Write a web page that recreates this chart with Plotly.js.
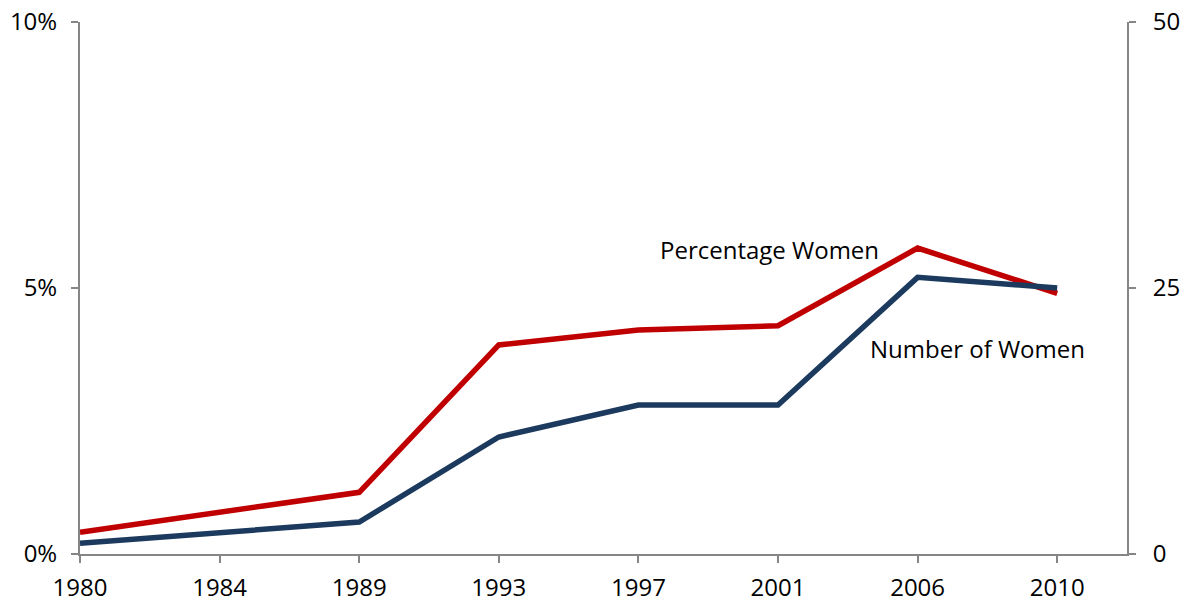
<!DOCTYPE html>
<html>
<head>
<meta charset="utf-8">
<script src="https://cdn.plot.ly/plotly-3.0.1.min.js"></script>
<style>html,body{margin:0;padding:0;background:#fff;}#chart{width:1187px;height:604px;}</style>
</head>
<body>
<div id="chart"></div>
<script>
const years = ['1980', '1984', '1989', '1993', '1997', '2001', '2006', '2010'];
const percentageWomen = [0.41, null, 1.16, 3.93, 4.21, 4.29, 5.75, 4.90];
const numberOfWomen = [1, null, 3, 11, 14, 14, 26, 25];
const leftTicks = [0, 5, 10];
const leftTickText = ['0%', '5%', '10%'];
const rightTicks = [0, 25, 50];

const fontFamily = 'Open Sans, Noto Sans, sans-serif';
const axisColor = '#868686';
const fs = 24;

const traces = [
  {x: years, y: percentageWomen, type: 'scatter', mode: 'lines', connectgaps: true,
   name: 'Percentage Women', line: {color: '#C00000', width: 5.5}, yaxis: 'y'},
  {x: years, y: numberOfWomen, type: 'scatter', mode: 'lines', connectgaps: true,
   name: 'Number of Women', line: {color: '#1B3A5E', width: 5.5}, yaxis: 'y2'}
];

const layout = {
  width: 1187, height: 604,
  margin: {l: 80, r: 60, t: 22, b: 50},
  paper_bgcolor: '#fff', plot_bgcolor: '#fff',
  showlegend: false,
  font: {family: fontFamily, size: fs, color: '#000'},
  xaxis: {type: 'category', categoryorder: 'array', categoryarray: years,
    range: [0, 7.5], showgrid: false, zeroline: false,
    showline: true, linecolor: axisColor, linewidth: 2,
    ticks: 'outside', ticklen: 7, tickcolor: axisColor, tickwidth: 2,
    ticklabelstandoff: 4,
    tickfont: {family: fontFamily, size: fs, color: '#000'}},
  yaxis: {range: [0, 10], tickvals: leftTicks, ticktext: leftTickText,
    showgrid: false, zeroline: false, showline: true, linecolor: axisColor, linewidth: 2,
    ticks: 'outside', ticklen: 7, tickcolor: axisColor, tickwidth: 2,
    ticklabelstandoff: 9,
    tickfont: {family: fontFamily, size: fs, color: '#000'}},
  yaxis2: {range: [0, 50], tickvals: rightTicks, overlaying: 'y', side: 'right',
    showgrid: false, zeroline: false, showline: true, linecolor: axisColor, linewidth: 2,
    ticks: 'outside', ticklen: 7, tickcolor: axisColor, tickwidth: 2,
    ticklabelstandoff: 12,
    tickfont: {family: fontFamily, size: fs, color: '#000'}},
  annotations: [
    {text: 'Percentage Women', x: 4.94, y: 5.72, xref: 'x', yref: 'y',
     showarrow: false, font: {family: fontFamily, size: fs, color: '#000'}},
    {text: 'Number of Women', x: 6.43, y: 19.3, xref: 'x', yref: 'y2',
     showarrow: false, font: {family: fontFamily, size: fs, color: '#000'}}
  ]
};

Plotly.newPlot('chart', traces, layout, {displayModeBar: false, responsive: false});
</script>
</body>
</html>
